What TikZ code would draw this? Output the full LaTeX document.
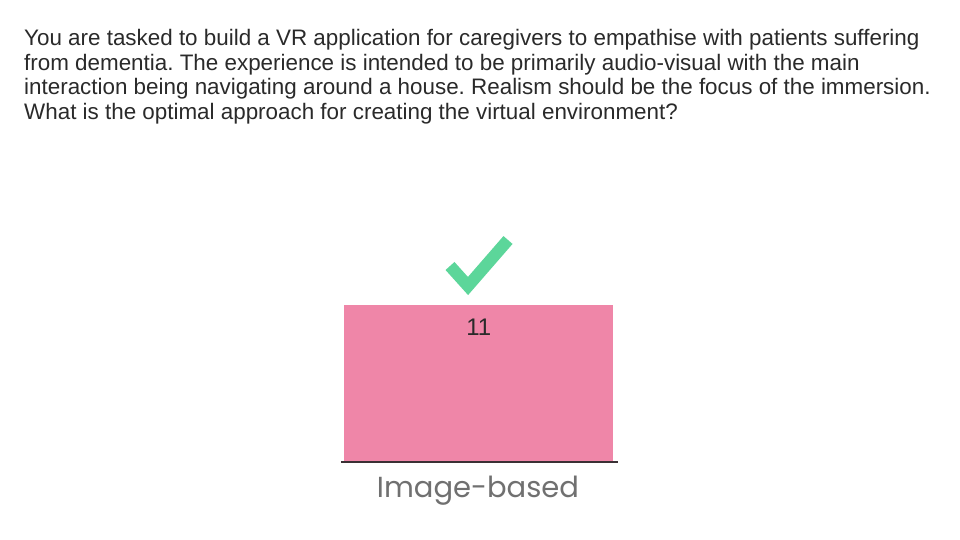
\documentclass[tikz,border=0pt]{standalone}
\usepackage{fontspec}
\setmainfont{Liberation Sans}
\newfontfamily\labelfont{Poppins}
\usetikzlibrary{positioning}

\definecolor{barpink}{HTML}{EF86A8}
\definecolor{tickgreen}{HTML}{5CD69A}
\definecolor{axisgrey}{HTML}{3A3034}
\definecolor{textgrey}{HTML}{2A2A2A}
\definecolor{labelgrey}{HTML}{707070}

\begin{document}
\frenchspacing
\begin{tikzpicture}[x=1pt, y=-1pt, node distance=4pt,
   question/.style={anchor=north west, align=left, inner sep=0pt, text=textgrey,
      font=\fontsize{22.4}{24.6}\selectfont},
   bar/.style={fill=barpink, draw=none, anchor=north west, inner sep=0pt,
      minimum width=269pt, minimum height=157pt},
   count/.style={inner sep=0pt, text=textgrey, font=\fontsize{24}{26}\selectfont},
   tick/.style={draw=tickgreen, line width=12pt, line cap=butt, line join=miter},
   axis/.style={draw=axisgrey, line width=2.6pt},
   label/.style={inner sep=0pt, text=labelgrey, font=\labelfont\fontsize{29}{32}\selectfont}]
   \useasboundingbox[fill=white] (0,0) rectangle (960,540);

   \node (q)[question] at (24,29) {You are tasked to build a VR application for caregivers to empathise with patients suffering\\
   from dementia. The experience is intended to be primarily audio-visual with the main\\
   interaction being navigating around a house. Realism should be the focus of the immersion.\\
   What is the optimal approach for creating the virtual environment?};

   % bar and its value
   \node (b1)[bar] at (344,305) {};
   \node (n1)[count, below=14pt of b1.north] {11};

   % baseline
   \coordinate (axl) at (341,462);
   \coordinate (axr) at (618,462);
   \draw[axis] (axl) -- (axr);
   \node (l1)[label] at (478,491) {Image-based};

   % tick
   \coordinate (t1) at (450,266);
   \coordinate (t2) at (468,286);
   \coordinate (t3) at (508,240);
   \draw[tick] (t1) -- (t2) -- (t3);
\end{tikzpicture}
\end{document}
